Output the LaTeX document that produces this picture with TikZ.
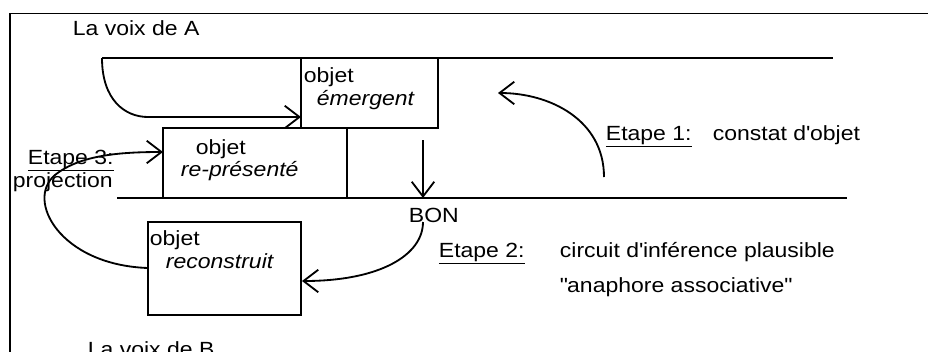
\documentclass[tikz,border=0pt]{standalone}
\usepackage{fontspec}
\setmainfont{Liberation Sans}[FakeStretch=1.12]
\usepackage{tikz}
\usetikzlibrary{arrows.meta, positioning, calc}

\tikzset{
  box/.style={draw, line width=1.3pt, inner sep=0pt},
  lbl/.style={inner sep=0pt, anchor=base west},
}

\begin{document}
\begin{tikzpicture}[x=0.025cm, y=-0.025cm, line width=1.3pt,
    >={Straight Barb[length=10.5pt, width=16pt]},
    every node/.style={font=\fontsize{14.6}{17}\selectfont}]
  \useasboundingbox (0,0) rectangle (928,351);
  % frame
  \draw (10,400) -- (10,13.5) -- (940,13.5);
  % the two voices
  \coordinate (aS) at (102,58);
  \coordinate (aE) at (833,58);
  \coordinate (bS) at (117,198);
  \coordinate (bE) at (847,198);
  \draw (aS) -- (aE);
  \draw (bS) -- (bE);
  \node[lbl] (voixA) at (72,35) {La voix de A};
  \node[lbl] (voixB) at (87,356) {La voix de B};
  % objects
  \node[box, minimum width=3.425cm, minimum height=1.75cm, fill=white] (emerg) at (369.5,93) {};
  \node[box, minimum width=4.6cm, minimum height=1.75cm, fill=white] (repres) at (255,163) {};
  \node[box, minimum width=3.825cm, minimum height=2.325cm] (recon) at (224.5,268.5) {};
  \node[lbl] (emergA) at (303,82) {objet};
  \node[lbl] (emergB) at (316,105) {\itshape émergent};
  \node[lbl] (represA) at (195,154) {objet};
  \node[lbl] (represB) at (180,176) {\itshape re-présenté};
  \node[lbl] (reconA) at (149,245) {objet};
  \node[lbl] (reconB) at (165,268) {\itshape reconstruit};
  \node[lbl] (bon) at (408,222) {BON};
  % steps
  \node[lbl] (et1) at (605,140) {\underline{Etape 1:}};
  \node[lbl] (et1t) at (712,140) {constat d\textquotesingle objet};
  \node[lbl] (et2) at (438,257) {\underline{Etape 2:}};
  \node[lbl] (et2t) at (559,257) {circuit d\textquotesingle inférence plausible};
  \node[lbl] (et2u) at (559,292) {\textquotedbl anaphore associative\textquotedbl};
  \node[lbl] (et3) at (27,164) {\underline{Etape 3:}};
  \node[lbl] (et3t) at (12,187) {projection};
  % arrows
  \coordinate (aIn) at (301,117);
  \coordinate (dTop) at (423,140);
  \coordinate (dBot) at (423,198);
  \coordinate (bonOut) at (423,222);
  \coordinate (reconIn) at (302,281);
  \coordinate (reconOut) at (148,268);
  \coordinate (represIn) at (163,152);
  \coordinate (e1S) at (604,177);
  \coordinate (e1E) at (498,93);
  \draw[->] (aS) .. controls (102,100) and (125,117) .. (148,117) -- (aIn);
  \draw[->] (dTop) -- (dBot);
  \draw[->] (bonOut) .. controls (423,255) and (380,281) .. (reconIn);
  \draw[->] (reconOut) .. controls (60,265) and (25,200) .. (55,175)
    .. controls (80,155) and (120,152) .. (represIn);
  \draw[->] (e1S) .. controls (604,120) and (550,93) .. (e1E);
\end{tikzpicture}
\end{document}
